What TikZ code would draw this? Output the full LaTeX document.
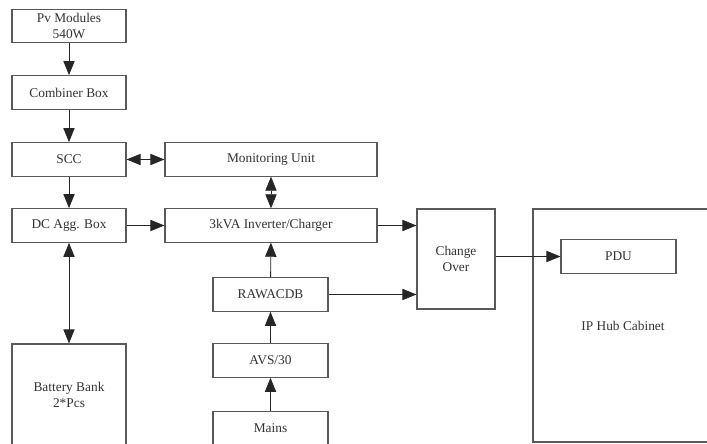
\documentclass[tikz,border=0pt]{standalone}
\usepackage{fontspec}
\setmainfont{Liberation Serif}
\usetikzlibrary{arrows.meta,positioning}

\tikzset{
  lbl/.style={inner sep=0pt,align=center,text=black!80,font=\fontsize{9.5}{11}\selectfont},
  blk/.style={lbl,draw=black!65,line width=0.8pt,fill=white},
  sbox/.style={blk,minimum width=2.85cm,minimum height=0.84cm},
  wbox/.style={blk,minimum width=5.3cm,minimum height=0.83cm},
  tip/.style={Triangle[length=10pt,width=8pt]},
  conn/.style={black!85,line width=0.6pt,-{Triangle[length=10pt,width=8pt]}},
  bconn/.style={black!85,line width=0.6pt,{Triangle[length=10pt,width=8pt]}-{Triangle[length=10pt,width=8pt]}}
}

\begin{document}
\begin{tikzpicture}[x=0.025cm,y=-0.025cm]
\useasboundingbox (0,0) rectangle (707,444);
\clip (0,0) rectangle (707,444);

% left column
\node[sbox] (pv) at (69,26) {Pv Modules\\540W};
\node[sbox] (comb) at (69,92.5) {Combiner Box};
\node[sbox] (scc) at (69,159.5) {SCC};
\node[sbox] (dcagg) at (69,225.5) {DC Agg. Box};
\node[blk,minimum width=2.85cm,minimum height=2.55cm] (batt) at (69,395) {Battery Bank\\2*Pcs};

% middle column
\node[wbox] (mon) at (271,159.5) {Monitoring Unit};
\node[wbox] (inv) at (271,225.5) {3kVA Inverter/Charger};
\node[sbox,minimum width=2.875cm] (raw) at (270.5,294.5) {RAWACDB};
\node[sbox,minimum width=2.875cm] (avs) at (270.5,360.5) {AVS/30};
\node[sbox,minimum width=2.875cm] (mains) at (270.5,428.5) {Mains};

% right side
\node[blk,minimum width=1.95cm,minimum height=2.5cm] (chg) at (456,259) {Change\\Over};
\node[blk,minimum width=4.5cm,minimum height=5.825cm] (cab) at (623,325.5) {};
\node[lbl] (cablbl) at (623,326) {IP Hub Cabinet};
\node[sbox,minimum width=2.875cm] (pdu) at (618.5,256.5) {PDU};

\draw[conn] (pv) -- (comb);
\draw[conn] (comb) -- (scc);
\draw[conn] (scc) -- (dcagg);
\draw[bconn] (scc) -- (mon);
\draw[bconn] (mon) -- (inv);
\draw[conn] (dcagg) -- (inv);
\draw[bconn] (dcagg) -- (batt);
\draw[conn] (mains) -- (avs);
\draw[conn] (avs) -- (raw);
\draw[conn] (raw) -- (inv);
\draw[conn] (inv.east) -- (inv.east -| chg.west);
\draw[conn] (raw.east) -- (raw.east -| chg.west);
\draw[conn] (chg.east |- pdu.west) -- (pdu.west);
\end{tikzpicture}
\end{document}
